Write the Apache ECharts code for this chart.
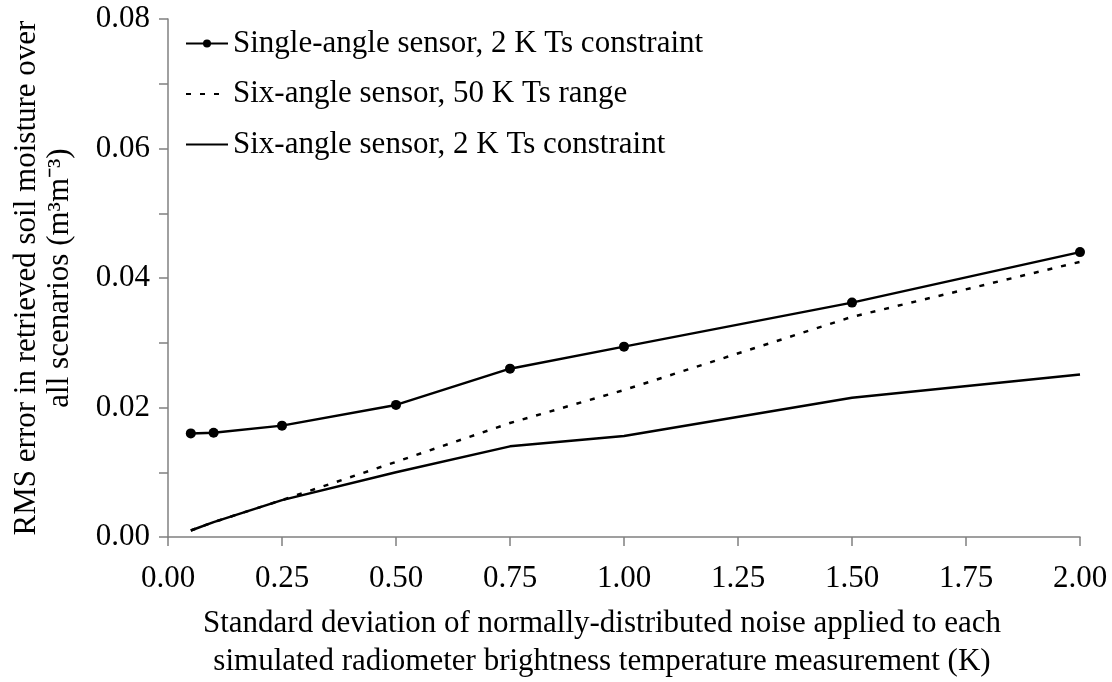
<!DOCTYPE html>
<html>
<head>
<meta charset="utf-8">
<script src="https://cdn.jsdelivr.net/npm/echarts@6/dist/echarts.min.js"></script>
<style>
html, body { margin: 0; padding: 0; background: #fff; }
#main { width: 1112px; height: 682px; }
</style>
</head>
<body>
<div id="main"></div>
<script>
// noise levels (K)
var noise = [0.05, 0.1, 0.25, 0.5, 0.75, 1.0, 1.5, 2.0];

// RMS error values
var singleAngle2K = [0.0160, 0.0161, 0.0172, 0.0204, 0.0260, 0.0294, 0.0362, 0.0440];
var sixAngle50K = [0.0010, 0.0023, 0.0057, 0.0116, 0.0176, 0.0227, 0.0340, 0.0425];
var sixAngle2K = [0.0010, 0.0023, 0.0057, 0.0100, 0.0140, 0.0156, 0.0215, 0.0251];

var seriesNames = [
	'Single-angle sensor, 2 K Ts constraint',
	'Six-angle sensor, 50 K Ts range',
	'Six-angle sensor, 2 K Ts constraint'
];

function pairs(xs, ys) {
	var out = [];
	for (var i = 0; i < xs.length; i++) {
		out.push([xs[i], ys[i]]);
	}
	return out;
}

var font = 'Liberation Serif';
var myChart = echarts.init(document.getElementById('main'));

var option = {
	animation: false,
	textStyle: { fontFamily: font, color: '#000' },
	grid: { left: 168, right: 32, top: 19, bottom: 145, outerBoundsMode: 'none', containLabel: false },
	legend: {
		orient: 'vertical',
		left: 180,
		top: 23,
		itemGap: 19.5,
		itemWidth: 42,
		itemHeight: 10,
		textStyle: { fontFamily: font, fontSize: 31, color: '#000' },
		data: [
			{ name: seriesNames[0] },
			{ name: seriesNames[1], itemStyle: { opacity: 0 } },
			{ name: seriesNames[2], itemStyle: { opacity: 0 } }
		]
	},
	xAxis: {
		type: 'value',
		min: 0,
		max: 2,
		interval: 0.25,
		name: 'Standard deviation of normally-distributed noise applied to each\nsimulated radiometer brightness temperature measurement (K)',
		nameLocation: 'middle',
		nameGap: 68,
		nameTextStyle: { fontFamily: font, fontSize: 31, color: '#000', lineHeight: 38, padding: [0, 44, 0, 0] },
		axisLine: { lineStyle: { color: '#808080', width: 1.5 } },
		axisTick: { show: true, length: 9, lineStyle: { color: '#808080', width: 1.5 } },
		axisLabel: {
			fontFamily: font, fontSize: 31, color: '#000', margin: 26,
			formatter: function (v) { return v.toFixed(2); }
		},
		splitLine: { show: false }
	},
	yAxis: {
		type: 'value',
		min: 0,
		max: 0.08,
		interval: 0.02,
		name: 'RMS error in retrieved soil moisture over\nall scenarios (m\u00b3m\u207b\u00b3)',
		nameLocation: 'middle',
		nameRotate: 90,
		nameGap: 92,
		nameTextStyle: { fontFamily: font, fontSize: 31, color: '#000', lineHeight: 33 },
		axisLine: { show: true, lineStyle: { color: '#808080', width: 1.5 } },
		axisTick: { show: true, length: 9, lineStyle: { color: '#808080', width: 1.5 } },
		minorTick: { show: true, splitNumber: 2, length: 9, lineStyle: { color: '#808080', width: 1.5 } },
		axisLabel: {
			fontFamily: font, fontSize: 31, color: '#000', margin: 18,
			formatter: function (v) { return v.toFixed(2); }
		},
		splitLine: { show: false }
	},
	series: [
		{
			name: seriesNames[0],
			type: 'line',
			data: pairs(noise, singleAngle2K),
			symbol: 'circle',
			symbolSize: 10,
			itemStyle: { color: '#000' },
			lineStyle: { color: '#000', width: 2.5 }
		},
		{
			name: seriesNames[1],
			type: 'line',
			data: pairs(noise, sixAngle50K),
			symbol: 'none',
			itemStyle: { color: '#000' },
			lineStyle: { color: '#000', width: 2.5, type: [5, 9] }
		},
		{
			name: seriesNames[2],
			type: 'line',
			data: pairs(noise, sixAngle2K),
			symbol: 'none',
			itemStyle: { color: '#000' },
			lineStyle: { color: '#000', width: 2.5 }
		}
	]
};

myChart.setOption(option);
</script>
</body>
</html>
